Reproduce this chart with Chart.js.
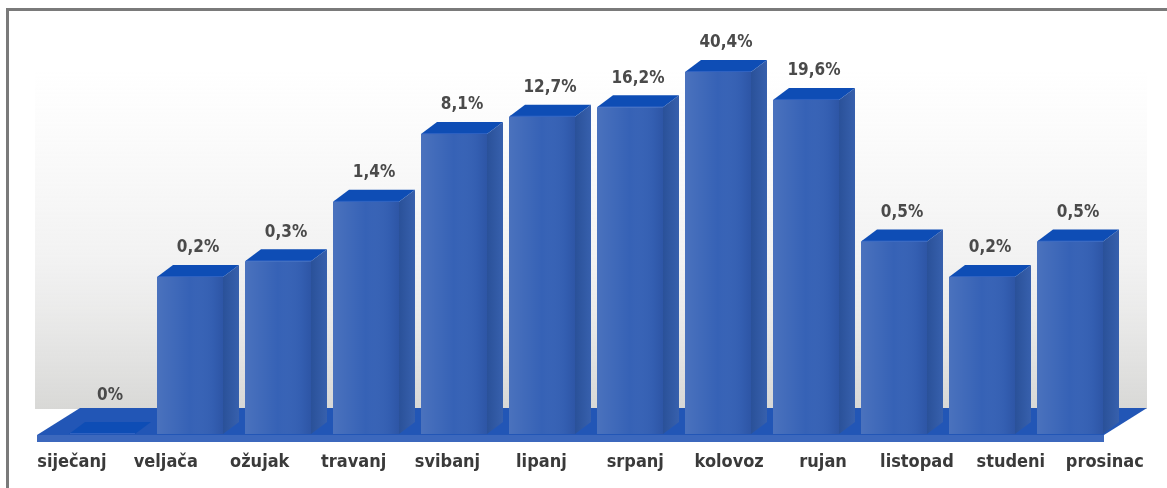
<!DOCTYPE html>
<html>
<head>
<meta charset="utf-8">
<script src="https://cdn.jsdelivr.net/npm/chart.js@4/dist/chart.umd.min.js"></script>
<style>
    html, body { margin: 0; padding: 0; background: #fff; }
    #wrap { width: 1167px; height: 488px; position: relative; }
</style>
</head>
<body>
<div id="wrap"><canvas id="monthChart"></canvas></div>
<script>
var months = ['siječanj', 'veljača', 'ožujak', 'travanj', 'svibanj', 'lipanj',
    'srpanj', 'kolovoz', 'rujan', 'listopad', 'studeni', 'prosinac'];
var shares = [0, 0.2, 0.3, 1.4, 8.1, 12.7, 16.2, 40.4, 19.6, 0.5, 0.2, 0.5];

// depth of the fake 3d bars
var DX = 16;
var DY = 12;

function fmt(v) {
    return String(v).replace('.', ',') + '%';
}

function poly(c, pts, fill) {
    c.beginPath();
    c.moveTo(pts[0][0], pts[0][1]);
    for (var i = 1; i < pts.length; i++) c.lineTo(pts[i][0], pts[i][1]);
    c.closePath();
    c.fillStyle = fill;
    c.fill();
}

var scenery = {
    id: 'scenery',
    beforeDatasetsDraw: function (chart) {
        var c = chart.ctx;
        var a = chart.chartArea;
        c.save();
        // frame
        c.fillStyle = '#7a7a7a';
        c.fillRect(6, 8, chart.width - 6, 3);
        c.fillRect(6, 8, 3, chart.height - 8);

        // grey backdrop
        var g = c.createLinearGradient(0, 70, 0, a.bottom - 25);
        g.addColorStop(0, 'rgba(235,235,235,0)');
        g.addColorStop(0.55, 'rgba(232,232,232,0.55)');
        g.addColorStop(1, 'rgba(216,216,214,1)');
        c.fillStyle = g;
        c.fillRect(a.left - 23, 70, a.right - a.left + 56, a.bottom - 95);

        // floor
        var fl = a.left - 21, fr = a.right - 10, fy = a.bottom + 1;
        poly(c, [[fl, fy], [fl + 43, fy - 27], [fr + 43, fy - 27], [fr, fy]], '#2256b6');
        c.fillStyle = '#3c68bd';
        c.fillRect(fl, fy, fr - fl, 7);
        c.restore();
    },
    afterDatasetsDraw: function (chart) {
        var c = chart.ctx;
        var bars = chart.getDatasetMeta(0).data;
        c.save();
        bars.forEach(function (b) {
            var l = b.x - b.width / 2, r = b.x + b.width / 2;
            var t = b.y, bs = b.base;
            if (bs - t > 0) {
                var fg = c.createLinearGradient(l, 0, r, 0);
                fg.addColorStop(0, 'rgba(255,255,255,0.10)');
                fg.addColorStop(0.5, 'rgba(255,255,255,0)');
                fg.addColorStop(0.85, 'rgba(0,20,80,0.05)');
                fg.addColorStop(1, 'rgba(0,20,80,0.16)');
                c.fillStyle = fg;
                c.fillRect(l, t, r - l, bs - t);
                var sg = c.createLinearGradient(r, 0, r + DX, 0);
                sg.addColorStop(0, '#2a5199');
                sg.addColorStop(1, '#3760ad');
                poly(c, [[r, t], [r + DX, t - DY], [r + DX, bs - DY], [r, bs]], sg);
            }
            poly(c, [[l, t], [l + DX, t - DY], [r + DX, t - DY], [r, t]], '#0e4db5');
            c.strokeStyle = '#2f62c2';
            c.lineWidth = 1;
            c.beginPath();
            c.moveTo(l + 1, t - 0.5);
            c.lineTo(r, t - 0.5);
            c.stroke();
        });
        c.restore();
    },
    afterDraw: function (chart) {
        var c = chart.ctx;
        var a = chart.chartArea;
        var bars = chart.getDatasetMeta(0).data;
        var mid = (a.left + a.right) / 2 - 35;
        c.save();
        c.textAlign = 'center';
        c.textBaseline = 'middle';
        bars.forEach(function (b, i) {
            var lift = shares[i] === 0 ? 26 : 17;
            c.font = 'bold 17px "DejaVu Sans Condensed", "DejaVu Sans", sans-serif';
            c.fillStyle = '#4a4a4a';
            c.fillText(fmt(shares[i]), b.x + DX / 2, b.y - DY - lift);
            // month names spread a bit wider than the bars (perspective)
            c.font = 'bold 18px "DejaVu Sans Condensed", "DejaVu Sans", sans-serif';
            c.fillStyle = '#3a3a3a';
            c.fillText(months[i], mid + (b.x - mid) * 1.067, 462);
        });
        c.restore();
    }
};

var ctx = document.getElementById('monthChart').getContext('2d');

var monthChart = new Chart(ctx, {
    type: 'bar',
    data: {
        labels: months,
        datasets: [
            {
                label: 'udio',
                data: shares,
                backgroundColor: '#3662b6',
                borderWidth: 0,
                categoryPercentage: 1,
                barPercentage: 0.75
            }
        ]
    },
    options: {
        responsive: true,
        maintainAspectRatio: false,
        animation: false,
        layout: {
            padding: { left: 58, right: 53, top: 37, bottom: 54 }
        },
        scales: {
            x: { display: false },
            y: { display: false, type: 'logarithmic', min: 0.00343, max: 100 }
        },
        plugins: {
            legend: { display: false },
            tooltip: { enabled: false }
        }
    },
    plugins: [scenery]
});
</script>
</body>
</html>
